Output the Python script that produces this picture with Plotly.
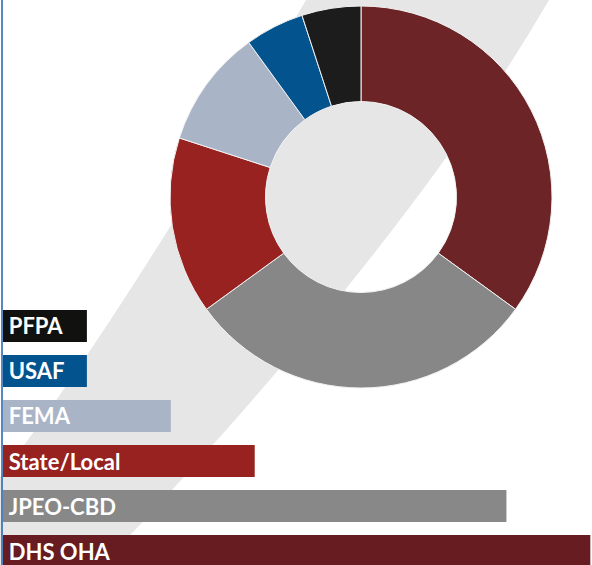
import plotly.graph_objects as go

# ---- data ----
categories = ["DHS OHA", "JPEO-CBD", "State/Local", "FEMA", "USAF", "PFPA"]
shares = [35, 30, 15, 10, 5, 5]
pie_colors = ["#6d2427", "#878787", "#972220", "#a9b4c7", "#03538f", "#1c1c1c"]
bar_colors = ["#661c20", "#878887", "#972220", "#a9b4c7", "#03538f", "#111210"]

W, H = 592, 565


def px(x, y):
    return x / W, 1 - y / H


def path(cmds):
    out = []
    for c in cmds:
        if isinstance(c, str):
            out.append(c)
        else:
            xx, yy = px(*c)
            out.append(f"{xx:.5f},{yy:.5f}")
    return " ".join(out)


band = path(["M", (306, 0), "L", (549, 0), "Q", (408, 243), (102, 565),
             "L", (-2, 567), "L", (-2, 480), "Q", (122, 318), (306, 0), "Z"])

fig = go.Figure()

fig.add_trace(go.Pie(
    labels=categories, values=shares, hole=0.5, sort=False,
    direction="clockwise", rotation=0,
    marker=dict(colors=pie_colors, line=dict(color="#f2f2f2", width=1)),
    textinfo="none", hoverinfo="label+percent", showlegend=False,
    domain=dict(x=[170 / W, 552 / W], y=[1 - 388 / H, 1 - 6 / H]),
))

fig.add_trace(go.Bar(
    y=categories, x=shares, orientation="h",
    marker=dict(color=bar_colors, line=dict(width=0)),
    width=0.71,
    text=categories, texttemplate="\u2009%{text}",
    textposition="inside", insidetextanchor="start",
    constraintext="none",
    textfont=dict(family="Lato", size=22, color="white", weight="bold"),
    hoverinfo="x+y", showlegend=False,
))

fig.update_layout(
    width=W, height=H, autosize=False,
    margin=dict(l=0, r=0, t=0, b=0, pad=0),
    paper_bgcolor="white", plot_bgcolor="rgba(0,0,0,0)",
    xaxis=dict(domain=[3 / W, 1], range=[0, 35.1], visible=False, fixedrange=True),
    yaxis=dict(domain=[0, 1], range=[-0.311, 12.244], visible=False,
               categoryorder="array", categoryarray=categories, fixedrange=True),
    shapes=[
        dict(type="path", path=band, xref="paper", yref="paper",
             fillcolor="#e6e6e6", line=dict(width=0), layer="below"),
        dict(type="line", xref="paper", yref="paper", x0=2 / W, x1=2 / W, y0=0, y1=1,
             line=dict(color="#1f5fae", width=1.5), layer="above"),
    ],
)

fig.write_html("out.html")
